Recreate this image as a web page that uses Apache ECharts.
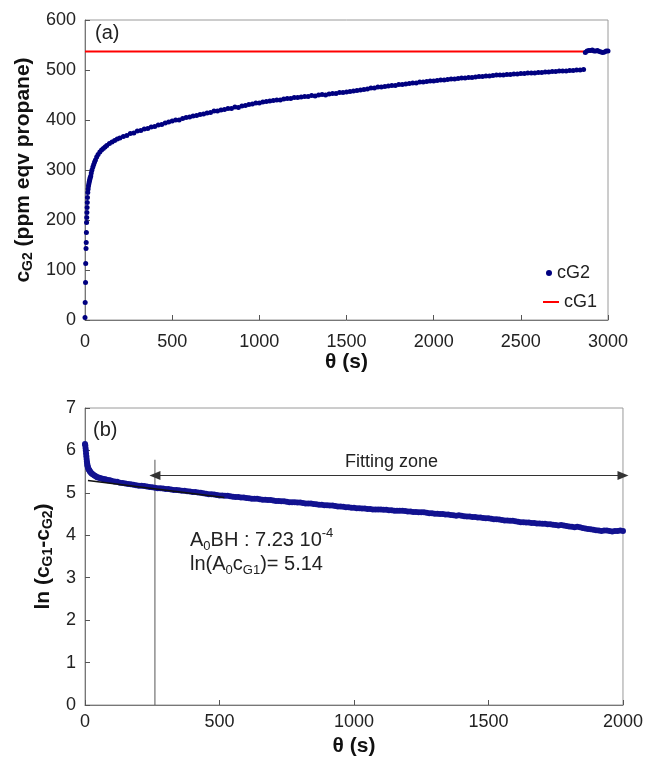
<!DOCTYPE html>
<html><head><meta charset="utf-8">
<script src="https://cdn.jsdelivr.net/npm/echarts@6/dist/echarts.min.js"></script>
<style>html,body{margin:0;padding:0;background:#fff}#c{width:646px;height:759px}</style>
</head><body><div id="c"></div>
<script>
// ---------- panel (a) data ----------
const theta1 = [0,1,3,4,6,7,8,9,10,11,12,13,14,16,18,20,22,24,26,28,30,33,36,40,45,50,55,60,67,75,85,95,105,115,125,140,155,170,185,200,
220,240,260,280,300,320,340,360,380,400,420,440,460,480,500,520,540,560,580,600,620,640,660,680,700,720,740,760,780,800,
820,840,860,880,900,920,940,960,980,1000,1020,1040,1060,1080,1100,1120,1140,1160,1180,1200,1220,1240,1260,1280,1300,
1320,1340,1360,1380,1400,1420,1440,1460,1480,1500,1520,1540,1560,1580,1600,1620,1640,1660,1680,1700,1720,1740,1760,1780,1800,
1820,1840,1860,1880,1900,1920,1940,1960,1980,2000,2020,2040,2060,2080,2100,2120,2140,2160,2180,2200,2220,2240,2260,2280,2300,
2320,2340,2360,2380,2400,2420,2440,2460,2480,2500,2520,2540,2560,2580,2600,2620,2640,2660,2680,2700,2720,2740,2760,2780,2800,
2820,2840,2860,2870,2880,2890,2900,2910,2920,2930,2940,2950,2960,2970,2980,2990,3000];
const cG2 = [5,35,75,113,143,155,175,195,205,215,225,235,245,255,262,268,272,276,279,282,285,288,294,300,306,311,316,320,326,331,336,340,343,346,349,353,356,359,362,364,
367,369,373,374,378,379,382,383,386,387,390,391,394,396,398,400,400,403,405,406,408,409,411,412,414,415,418,418,420,421,
423,423,426,425,428,429,431,432,434,434,436,437,438,439,440,440,442,443,443,445,445,446,447,447,449,
448,450,451,450,452,453,453,455,455,456,457,458,459,460,461,462,464,464,466,466,467,468,469,469,471,
471,472,473,474,474,476,476,477,478,478,479,480,480,481,482,482,483,484,484,485,485,486,487,487,488,
488,489,490,490,490,491,491,492,492,493,493,494,494,494,495,495,496,496,497,497,498,498,498,499,499,
500,500,501,535,538,539,539,540,538,538,539,537,536,535,536,538,538];
const cG1Theta = [0, 3000];
const cG1 = [537, 537];

// ---------- panel (b) data ----------
const theta2 = [0,1,2,3,4,5,6,7,8,9,10,12,14,16,18,20,23,26,30,35,40,45,50,55,60,65,70,75,80,85,90,95,
100,110,120,130,140,150,160,170,180,190,200,210,220,230,240,250,
260,270,280,290,300,310,320,330,340,350,360,370,380,390,400,410,420,430,440,450,460,470,480,490,500,510,520,530,540,550,
560,570,580,590,600,610,620,630,640,650,660,670,680,690,700,710,720,730,740,750,760,770,780,790,800,810,820,830,840,850,
860,870,880,890,900,910,920,930,940,950,960,970,980,990,1000,1010,1020,1030,1040,1050,1060,1070,1080,1090,1100,1110,1120,1130,1140,1150,
1160,1170,1180,1190,1200,1210,1220,1230,1240,1250,1260,1270,1280,1290,1300,1310,1320,1330,1340,1350,1360,1370,1380,1390,1400,1410,1420,1430,1440,1450,
1460,1470,1480,1490,1500,1510,1520,1530,1540,1550,1560,1570,1580,1590,1600,1610,1620,1630,1640,1650,1660,1670,1680,1690,1700,1710,1720,1730,1740,1750,
1760,1770,1780,1790,1800,1810,1820,1830,1840,1850,1860,1870,1880,1890,1900,1910,1920,1930,1940,1950,1960,1970,1980,1990,2000];
const lnDiff = [6.15,6.12,6.06,6.0,5.93,5.86,5.80,5.74,5.69,5.65,5.62,5.58,5.55,5.53,5.51,5.49,5.47,5.45,5.43,5.41,5.39,5.37,5.36,5.35,5.34,5.33,5.32,5.32,5.31,5.30,5.30,5.29,
5.28,5.27,5.26,5.24,5.23,5.22,5.21,5.20,5.19,5.18,5.17,5.17,5.16,5.15,5.14,5.13,
5.12,5.11,5.11,5.10,5.09,5.09,5.08,5.07,5.07,5.06,5.05,5.05,5.04,5.03,5.02,5.02,5.01,5.00,4.99,4.98,4.97,4.97,4.96,4.95,4.94,4.94,4.93,4.93,4.92,4.91,
4.90,4.90,4.89,4.89,4.88,4.87,4.86,4.86,4.86,4.85,4.84,4.84,4.83,4.83,4.82,4.81,4.81,4.80,4.80,4.79,4.78,4.78,4.78,4.77,4.77,4.76,4.75,4.75,4.75,4.74,
4.73,4.72,4.72,4.71,4.71,4.70,4.70,4.69,4.68,4.68,4.67,4.66,4.66,4.65,4.65,4.64,4.64,4.63,4.63,4.62,4.62,4.61,4.61,4.61,4.61,4.60,4.60,4.59,4.59,4.58,
4.58,4.58,4.58,4.57,4.56,4.56,4.55,4.55,4.54,4.54,4.54,4.53,4.52,4.52,4.51,4.51,4.50,4.50,4.49,4.49,4.48,4.47,4.46,4.47,4.46,4.45,4.44,4.44,4.43,4.43,
4.42,4.42,4.41,4.40,4.40,4.39,4.38,4.38,4.37,4.36,4.35,4.35,4.34,4.34,4.33,4.32,4.31,4.31,4.30,4.30,4.29,4.29,4.28,4.28,4.27,4.27,4.26,4.26,4.25,4.24,
4.23,4.24,4.23,4.22,4.21,4.20,4.19,4.20,4.19,4.17,4.16,4.15,4.14,4.13,4.12,4.11,4.10,4.11,4.11,4.10,4.09,4.10,4.10,4.11,4.10];
const fitTheta = [11, 518];
const fitVal = [5.29, 4.89];
const limitTheta = [260, 260];
const limitVal = [0, 5.78];
const zoneTheta = [260, 2000];
const zoneVal = [5.41, 5.41];

const FONT = 'Liberation Sans';
const zip = (a, b) => a.map((v, i) => [v, b[i]]);

const chart = echarts.init(document.getElementById('c'), null, {renderer: 'canvas'});

function xAxisCfg(grid, max, gap, margin) {
  return {
    type: 'value', gridIndex: grid, min: 0, max: max, interval: 500,
    axisLine: {show: true, onZero: false, lineStyle: {color: '#777', width: 1}},
    axisTick: {show: true, inside: true, length: 5, lineStyle: {color: '#555'}},
    axisLabel: {fontFamily: FONT, fontSize: 18, color: '#222', margin: margin, formatter: v => String(v)},
    splitLine: {show: false},
    name: 'θ (s)', nameLocation: 'middle', nameGap: gap,
    nameTextStyle: {fontFamily: FONT, fontSize: 21, fontWeight: 'bold', color: '#111'}
  };
}
function yAxisCfg(grid, max, interval, name, gap) {
  return {
    type: 'value', gridIndex: grid, min: 0, max: max, interval: interval,
    axisLine: {show: true, onZero: false, lineStyle: {color: '#777', width: 1}},
    axisTick: {show: true, inside: true, length: 5, lineStyle: {color: '#555'}},
    axisLabel: {fontFamily: FONT, fontSize: 18, color: '#222', margin: 9, formatter: v => String(v)},
    splitLine: {show: false},
    name: name, nameLocation: 'middle', nameGap: gap, nameRotate: 90,
    nameTextStyle: {
      color: '#111',
      rich: {
        b: {fontFamily: FONT, fontSize: 21, fontWeight: 'bold', color: '#111', lineHeight: 24},
        s: {fontFamily: FONT, fontSize: 14, fontWeight: 'bold', color: '#111', lineHeight: 13, verticalAlign: 'bottom'}
      }
    }
  };
}

const option = {
  animation: false,
  backgroundColor: '#fff',
  grid: [
    {left: 85, top: 20, width: 523, height: 300, show: true, borderColor: '#9a9a9a', borderWidth: 1, backgroundColor: 'transparent'},
    {left: 85, top: 408, width: 553, height: 297, show: true, borderColor: '#9a9a9a', borderWidth: 1, backgroundColor: 'transparent'}
  ],
  xAxis: [xAxisCfg(0, 3000, 29, 13), xAxisCfg(1, 2000, 31, 8)],
  yAxis: [
    yAxisCfg(0, 600, 100, '{b|c}{s|G2}{b| (ppm eqv propane)}', 50),
    yAxisCfg(1, 7, 1, '{b|ln (c}{s|G1}{b|-c}{s|G2}{b|)}', 30)
  ],
  legend: [
    {data: ['cG2'], left: 541, top: 259, orient: 'vertical', icon: 'circle', itemWidth: 6, itemHeight: 6, itemGap: 5,
     textStyle: {fontFamily: FONT, fontSize: 18, color: '#222'}},
    {data: [{name: 'cG1', icon: 'rect'}], left: 538, top: 288, orient: 'vertical', itemWidth: 16, itemHeight: 2,
     textStyle: {fontFamily: FONT, fontSize: 18, color: '#222'}}
  ],
  series: [
    {name: 'cG1', type: 'line', xAxisIndex: 0, yAxisIndex: 0, data: zip(cG1Theta, cG1), symbol: 'none',
     lineStyle: {color: '#ff0000', width: 2}, itemStyle: {color: '#ff0000'}, z: 2},
    {name: 'cG2', type: 'scatter', xAxisIndex: 0, yAxisIndex: 0, data: zip(theta1, cG2), symbol: 'circle', symbolSize: 5,
     itemStyle: {color: '#000080', opacity: 1}, z: 3},
    {name: 'ln', type: 'scatter', xAxisIndex: 1, yAxisIndex: 1, data: zip(theta2, lnDiff), symbol: 'circle', symbolSize: 6,
     itemStyle: {color: '#121290', opacity: 1}, z: 3},
    {name: 'fit', type: 'line', xAxisIndex: 1, yAxisIndex: 1, data: zip(fitTheta, fitVal), symbol: 'none',
     lineStyle: {color: '#111', width: 1.5}, z: 4},
    {name: 'limit', type: 'line', xAxisIndex: 1, yAxisIndex: 1, data: zip(limitTheta, limitVal), symbol: 'none',
     lineStyle: {color: '#555', width: 1}, z: 2},
    {name: 'zone', type: 'line', xAxisIndex: 1, yAxisIndex: 1, data: [], symbol: 'none',
     markLine: {
       silent: true, symbol: ['triangle', 'triangle'], symbolSize: [9, 11],
       label: {show: false},
       lineStyle: {color: '#333', width: 1, type: 'solid'},
       itemStyle: {color: '#111'},
       data: [[{coord: [zoneTheta[0], zoneVal[0]]}, {coord: [zoneTheta[1], zoneVal[1]]}]]
     }, z: 4}
  ],
  graphic: [
    {type: 'text', x: 95, y: 33, style: {text: '(a)', fontFamily: FONT, fontSize: 20, fill: '#222', align: 'left', verticalAlign: 'middle'}},
    {type: 'text', x: 93, y: 430, style: {text: '(b)', fontFamily: FONT, fontSize: 20, fill: '#222', align: 'left', verticalAlign: 'middle'}},
    {type: 'text', x: 345, y: 462, style: {text: 'Fitting zone', fontFamily: FONT, fontSize: 18, fill: '#222', align: 'left', verticalAlign: 'middle'}},
    {type: 'text', x: 190, y: 540, style: {
      text: '{t|A}{sb|0}{t|BH : 7.23 10}{sp|-4}', align: 'left', verticalAlign: 'middle',
      rich: {
        t: {fontFamily: FONT, fontSize: 20, fill: '#222', lineHeight: 26},
        sb: {fontFamily: FONT, fontSize: 13, fill: '#222', lineHeight: 14, verticalAlign: 'bottom'},
        sp: {fontFamily: FONT, fontSize: 13, fill: '#222', lineHeight: 12, verticalAlign: 'top'}
      }}},
    {type: 'text', x: 190, y: 564, style: {
      text: '{t|ln(A}{sb|0}{t|c}{sb|G1}{t|)= 5.14}', align: 'left', verticalAlign: 'middle',
      rich: {
        t: {fontFamily: FONT, fontSize: 20, fill: '#222', lineHeight: 26},
        sb: {fontFamily: FONT, fontSize: 13, fill: '#222', lineHeight: 14, verticalAlign: 'bottom'}
      }}}
  ]
};
chart.setOption(option);
</script>
</body></html>
